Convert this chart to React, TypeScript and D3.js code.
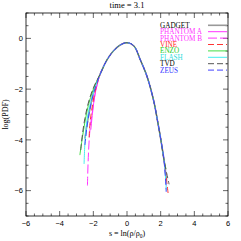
import * as d3 from 'd3';

const W = 241,
    H = 241;
const PLOT = { left: 26, right: 228, top: 13, bottom: 216 };

const xTicks = [-6, -4, -2, 0, 2, 4, 6];
const yTicks = [0, -2, -4, -6];
const title = 'time = 3.1';

// shared core of the PDF (all codes overlap here)
const core: [number, number][] = [
    [-1.6, -1.42], [-1.2, -0.86], [-0.8, -0.49], [-0.4, -0.26], [0, -0.17],
    [0.4, -0.29], [0.8, -0.86], [1.2, -1.52], [1.6, -2.5], [1.8, -3.2], [2.0, -3.95], [2.2, -4.8],
];

const gadget: [number, number][] = [[-2.5, -3.95], [-2.35, -3.3], [-2.15, -2.6], [-1.95, -2.0], ...core, [2.35, -5.6]];
const phantomA: [number, number][] = [[-2.15, -3.6], [-2.05, -2.95], [-1.9, -2.2], ...core, [2.3, -5.4]];
const phantomB: [number, number][] = [[-2.35, -5.8], [-2.3, -4.7], [-2.2, -3.6], [-2.05, -2.85], [-1.9, -2.2], ...core, [2.35, -5.8]];
const vine: [number, number][] = [[-2.25, -3.9], [-2.2, -3.35], [-2.1, -2.85], [-1.92, -2.15], ...core, [2.45, -6.15]];
const enzo: [number, number][] = [[-2.8, -4.6], [-2.65, -3.9], [-2.5, -3.3], [-2.3, -2.65], [-2.0, -2.0], ...core, [2.32, -5.15]];
const flash: [number, number][] = [[-2.55, -4.95], [-2.48, -3.9], [-2.35, -3.1], [-2.15, -2.5], [-1.95, -2.05], ...core, [2.34, -6.0]];
const tvd: [number, number][] = [[-2.75, -4.4], [-2.62, -3.65], [-2.5, -3.15], [-2.3, -2.55], [-2.0, -1.95], ...core, [2.5, -5.75]];
const zeus: [number, number][] = [[-2.5, -4.2], [-2.4, -3.6], [-2.22, -2.85], [-2.0, -2.2], ...core, [2.33, -6.05]];

const seriesNames = ['GADGET', 'PHANTOM A', 'PHANTOM B', 'VINE', 'ENZO', 'FLASH', 'TVD', 'ZEUS'];
const seriesData = [gadget, phantomA, phantomB, vine, enzo, flash, tvd, zeus];
const seriesColors = ['#999999', '#ff33ff', '#ff33ff', '#ff3333', '#44dd44', '#44eeee', '#555555', '#4444ff'];
const textColors = ['#000000', '#ff33ff', '#ff33ff', '#ff2222', '#22cc22', '#33dddd', '#000000', '#3333ff'];
const seriesDash = ['none', 'none', '9 3', '6 3', 'none', 'none', '6 3', '6 3'];
const seriesWidth = [1.6, 1, 1, 1, 1, 1, 1, 1];

export default function App() {
    const xScale = d3.scaleLinear().domain([-6, 6]).range([PLOT.left, PLOT.right]);
    const yScale = d3.scaleLinear().domain([-7, 1]).range([PLOT.bottom, PLOT.top]);

    const lineBuilder = d3
        .line<[number, number]>()
        .x((d) => xScale(d[0]))
        .y((d) => yScale(d[1]))
        .curve(d3.curveCatmullRom.alpha(0.5));

    const xMinor = d3.range(-6, 6.01, 0.5);
    const yMinor = d3.range(-7, 1.01, 0.5);

    return (
        <svg width={W} height={H} style={{ position: 'absolute', left: 0, top: 0 }}>
            <rect x={0} y={0} width={W} height={H} fill="white" />
            <text x={127} y={8} fontSize={8.5} textAnchor="middle" fontFamily="Liberation Serif">
                {title}
            </text>
            {/* curves */}
            {seriesData.map((d, i) => (
                <path
                    key={seriesNames[i]}
                    d={lineBuilder(d) || ''}
                    fill="none"
                    stroke={seriesColors[i]}
                    strokeWidth={seriesWidth[i]}
                    strokeDasharray={seriesDash[i]}
                />
            ))}
            {/* frame */}
            <rect
                x={PLOT.left}
                y={PLOT.top}
                width={PLOT.right - PLOT.left}
                height={PLOT.bottom - PLOT.top}
                fill="none"
                stroke="#000"
                strokeWidth={0.8}
            />
            {xMinor.map((v) => {
                const major = Math.abs(v % 2) < 1e-6;
                const len = major ? 5 : 2.5;
                const x = xScale(v);
                return (
                    <g key={'xt' + v} stroke="#000" strokeWidth={0.6}>
                        <line x1={x} x2={x} y1={PLOT.bottom} y2={PLOT.bottom - len} />
                        <line x1={x} x2={x} y1={PLOT.top} y2={PLOT.top + len} />
                    </g>
                );
            })}
            {yMinor.map((v) => {
                const major = Math.abs(v % 2) < 1e-6;
                const len = major ? 5 : 2.5;
                const y = yScale(v);
                return (
                    <g key={'yt' + v} stroke="#000" strokeWidth={0.6}>
                        <line x1={PLOT.left} x2={PLOT.left + len} y1={y} y2={y} />
                        <line x1={PLOT.right} x2={PLOT.right - len} y1={y} y2={y} />
                    </g>
                );
            })}
            {xTicks.map((v) => (
                <text
                    key={'xl' + v}
                    x={xScale(v)}
                    y={PLOT.bottom + 10}
                    fontSize={7.5}
                    textAnchor="middle"
                    fontFamily="Liberation Sans"
                >
                    {v < 0 ? '\u2212' + Math.abs(v) : v}
                </text>
            ))}
            {yTicks.map((v) => (
                <text
                    key={'yl' + v}
                    x={PLOT.left - 3}
                    y={yScale(v) + 2.7}
                    fontSize={7.5}
                    textAnchor="end"
                    fontFamily="Liberation Sans"
                >
                    {v < 0 ? '\u2212' + Math.abs(v) : v}
                </text>
            ))}
            <text x={127} y={236} fontSize={8} textAnchor="middle" fontFamily="Liberation Serif">
                s = ln(ρ/ρ<tspan fontSize={5.5} dy={1.5}>0</tspan>
                <tspan dy={-1.5}>)</tspan>
            </text>
            <text
                transform={`translate(8,${(PLOT.top + PLOT.bottom) / 2}) rotate(-90)`}
                fontSize={8}
                textAnchor="middle"
                fontFamily="Liberation Serif"
            >
                log(PDF)
            </text>
            {/* legend */}
            {seriesNames.map((name, i) => {
                const y = 25.3 + i * 6.4;
                return (
                    <g key={'lg' + name}>
                        <text
                            x={160}
                            y={y + 2.4}
                            fontSize={7.2}
                            fill={textColors[i]}
                            fontFamily="Liberation Serif"
                        >
                            {name}
                        </text>
                        <line
                            x1={208}
                            x2={227}
                            y1={y}
                            y2={y}
                            stroke={seriesColors[i]}
                            strokeWidth={seriesWidth[i]}
                            strokeDasharray={seriesDash[i]}
                        />
                    </g>
                );
            })}
        </svg>
    );
}
